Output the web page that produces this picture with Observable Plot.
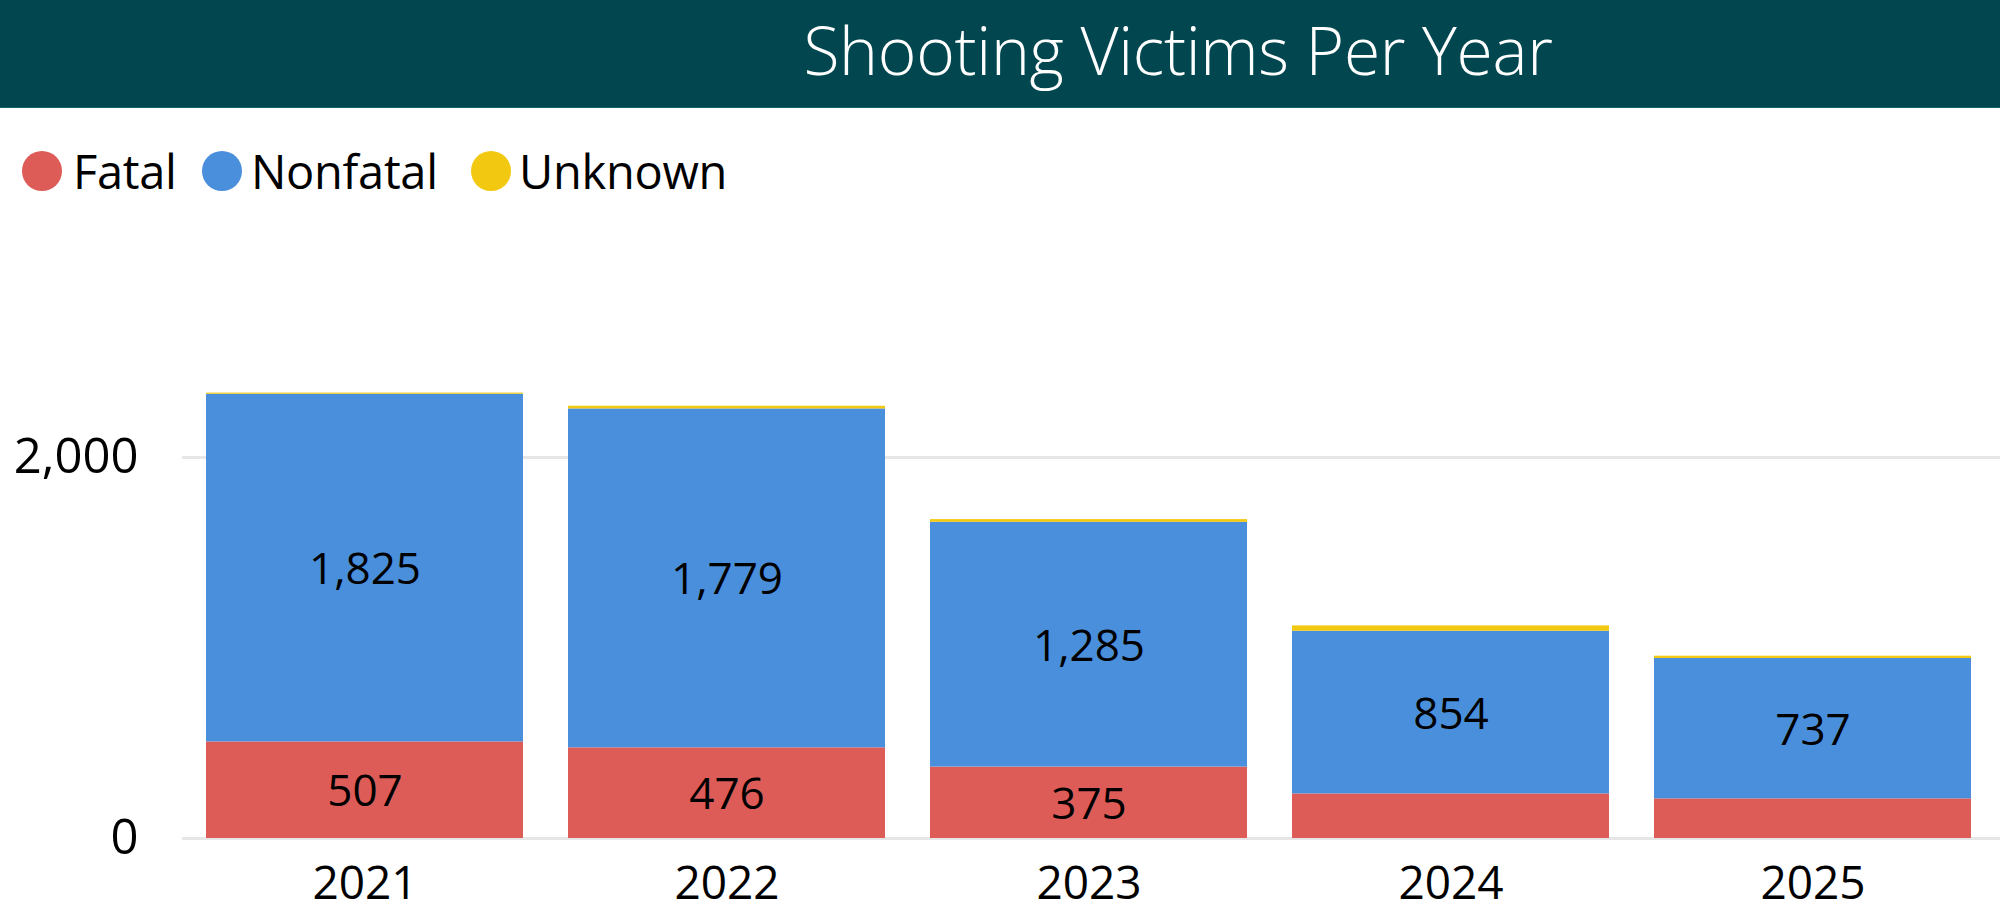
<!DOCTYPE html>
<html>
<head>
<meta charset="utf-8">
<script src="https://cdn.jsdelivr.net/npm/d3@7"></script>
<script src="https://cdn.jsdelivr.net/npm/@observablehq/plot@0.6"></script>
<style>
  html, body { margin: 0; padding: 0; background: #fff; width: 2000px; height: 924px; overflow: hidden; font-family: "Open Sans", "Noto Sans", sans-serif; }
  #titlebar { position: absolute; left: 0; top: 0; width: 2000px; height: 107px; background: #02474f; border-bottom: 1px solid #16646b; }
  #title { position: absolute; left: 1178px; top: 16px; transform: translateX(-50%); color: #fff; font-size: 66px; font-weight: 300; line-height: 1; white-space: nowrap; letter-spacing: -0.3px; }
  .lg-dot { position: absolute; width: 40px; height: 40px; border-radius: 50%; top: 151px; }
  .lg-txt { position: absolute; top: 143px; font-size: 47px; line-height: 56px; color: #000; white-space: nowrap; letter-spacing: -0.3px; }
  #chart { position: absolute; left: 0; top: 220px; }
</style>
</head>
<body>
<div id="titlebar"><div id="title"></div></div>
<div id="legend"></div>
<div id="chart"></div>
<script>
const titleText = "Shooting Victims Per Year";
const years = ["2021", "2022", "2023", "2024", "2025"];
const seriesNames = ["Fatal", "Nonfatal", "Unknown"];
const fatal = [507, 476, 375, 234, 208];
const nonfatal = [1825, 1779, 1285, 854, 737];
const unknown = [6, 14, 14, 28, 12];
const seriesColors = ["#de5c58", "#4a8fdb", "#f2c811"];
const yTicks = [0, 2000];

document.getElementById("title").textContent = titleText;

// legend
const legendPos = [[22, 73], [202, 251], [471, 519]];
const legend = document.getElementById("legend");
seriesNames.forEach((name, i) => {
  const dot = document.createElement("div");
  dot.className = "lg-dot";
  dot.style.left = legendPos[i][0] + "px";
  dot.style.background = seriesColors[i];
  legend.appendChild(dot);
  const t = document.createElement("div");
  t.className = "lg-txt";
  t.style.left = legendPos[i][1] + "px";
  t.textContent = name;
  legend.appendChild(t);
});

const valuesBySeries = [fatal, nonfatal, unknown];
const data = [];
seriesNames.forEach((s, si) => {
  years.forEach((y, yi) => data.push({year: y, type: s, value: valuesBySeries[si][yi]}));
});

const fmt = d3.format(",");

const chart = Plot.plot({
  width: 2000,
  height: 704,
  marginLeft: 182,
  marginRight: 5.5,
  marginTop: 141.75,
  marginBottom: 86,
  style: { fontFamily: "'Open Sans', 'Noto Sans', sans-serif", background: "transparent" },
  x: { domain: years, paddingInner: 0.125, paddingOuter: 0.0625, label: null },
  y: { domain: [0, 2500], label: null },
  color: { domain: seriesNames, range: seriesColors },
  marks: [
    Plot.ruleY(yTicks, { stroke: "#e6e6e6", strokeWidth: 3, insetRight: -6 }),
    Plot.barY(data, Plot.stackY({ x: "year", y: "value", z: "type", fill: "type", order: seriesNames })),
    Plot.text(data, Plot.stackY({
      x: "year", y: "value", z: "type", order: seriesNames,
      text: d => (d.type !== "Unknown" && d.value >= 300) ? fmt(d.value) : "",
      fill: "#000", fontSize: 44, dy: 2, letterSpacing: -0.5
    })),
    Plot.axisY({ ticks: yTicks, tickSize: 0, tickPadding: 44, tickFormat: d3.format(","), fontSize: 49, letterSpacing: -1, label: null }),
    Plot.axisX({ tickSize: 0, tickPadding: 28, fontSize: 46, label: null })
  ]
});
document.getElementById("chart").appendChild(chart);
</script>
</body>
</html>
